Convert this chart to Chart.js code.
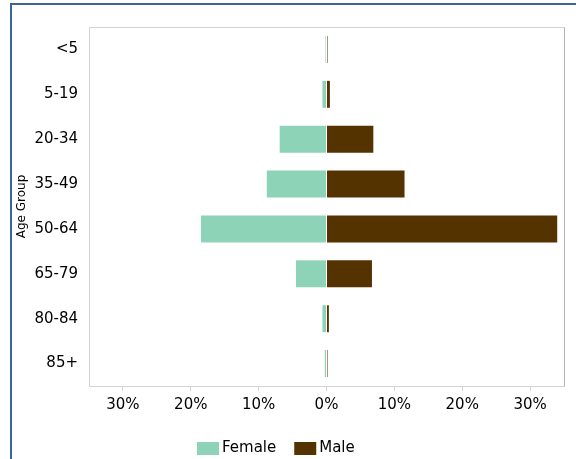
<!DOCTYPE html>
<html>
<head>
<meta charset="utf-8">
<script src="https://cdn.jsdelivr.net/npm/chart.js@4/dist/chart.umd.min.js"></script>
<style>
  html, body { margin: 0; padding: 0; background: #ffffff; }
  #wrap { position: relative; width: 576px; height: 459px; overflow: hidden; }
  #frame {
    position: absolute; left: 10px; top: 3px; width: 600px; height: 500px;
    border-left: 2px solid #3b6694; border-top: 2px solid #3b6694;
    box-sizing: border-box; pointer-events: none;
  }
  canvas { position: absolute; left: 0; top: 0; }
</style>
</head>
<body>
<div id="wrap">
  <canvas id="chart" width="576" height="459"></canvas>
  <div id="frame"></div>
</div>
<script>
// Age groups, top to bottom
const ageGroups = ['<5', '5-19', '20-34', '35-49', '50-64', '65-79', '80-84', '85+'];
// Share of cases (%) — female values are plotted to the left of zero
const femalePct = [0.15, 0.6, 6.9, 8.8, 18.5, 4.5, 0.6, 0.25];
const malePct   = [0.15, 0.5, 6.9, 11.5, 34.0, 6.7, 0.35, 0.15];
// Percentage ticks shown on the horizontal axis
const xTickValues = [-30, -20, -10, 0, 10, 20, 30];
const seriesNames = ['Female', 'Male'];

const FONT = 'DejaVu Sans';
const femaleColor = '#8dd3b8';
const maleColor = '#553300';

// Light frame around the plotting area
const plotFrame = {
  id: 'plotFrame',
  beforeDatasetsDraw(chart) {
    const { ctx, chartArea: a } = chart;
    ctx.save();
    ctx.lineWidth = 1;
    ctx.strokeStyle = '#d3d3d3';
    ctx.beginPath();
    ctx.moveTo(a.left + 0.5, a.bottom + 0.5);
    ctx.lineTo(a.left + 0.5, a.top + 0.5);
    ctx.lineTo(a.right + 0.5, a.top + 0.5);
    ctx.stroke();
    ctx.beginPath();
    ctx.moveTo(a.left + 0.5, a.bottom + 0.5);
    ctx.lineTo(a.right + 0.5, a.bottom + 0.5);
    ctx.stroke();
    ctx.strokeStyle = '#b4b4b4';
    ctx.beginPath();
    ctx.moveTo(a.right + 0.5, a.top + 0.5);
    ctx.lineTo(a.right + 0.5, a.bottom + 0.5);
    ctx.stroke();
    ctx.restore();
  }
};

// Legend drawn below the axis, swatch close to its label
const bottomLegend = {
  id: 'bottomLegend',
  afterDraw(chart) {
    const { ctx } = chart;
    const ds = chart.data.datasets;
    ctx.save();
    ctx.font = '15px "' + FONT + '"';
    ctx.textBaseline = 'middle';
    const boxW = 22, boxH = 13, gap = 3, itemGap = 18;
    const widths = ds.map(d => boxW + gap + ctx.measureText(d.label).width);
    let x = 197;
    const y = 448.5;
    ds.forEach((d, i) => {
      ctx.fillStyle = d.backgroundColor;
      ctx.fillRect(x, y - boxH / 2, boxW, boxH);
      ctx.fillStyle = '#000000';
      ctx.textAlign = 'left';
      ctx.fillText(d.label, x + boxW + gap, y);
      x += widths[i] + itemGap;
    });
    ctx.restore();
  }
};

new Chart(document.getElementById('chart'), {
  type: 'bar',
  data: {
    labels: ageGroups,
    datasets: [
      {
        label: seriesNames[0],
        data: femalePct.map(v => -v),
        backgroundColor: femaleColor,
        borderWidth: 0,
        categoryPercentage: 1.0,
        barPercentage: 0.6
      },
      {
        label: seriesNames[1],
        data: malePct,
        backgroundColor: maleColor,
        borderWidth: 0,
        categoryPercentage: 1.0,
        barPercentage: 0.6
      }
    ]
  },
  options: {
    indexAxis: 'y',
    responsive: false,
    animation: false,
    layout: { padding: { left: 12, top: 27, right: 12, bottom: 33 } },
    plugins: {
      legend: { display: false },
      tooltip: { enabled: false }
    },
    scales: {
      x: {
        stacked: true,
        min: -35,
        max: 35,
        afterBuildTicks: s => { s.ticks = xTickValues.map(v => ({ value: v })); },
        afterFit: s => { s.height = 40; },
        grid: {
          drawOnChartArea: false,
          drawTicks: true,
          tickLength: 5,
          color: '#d3d3d3'
        },
        border: { display: false },
        ticks: {
          padding: 5,
          maxRotation: 0,
          autoSkip: false,
          color: '#000000',
          font: { family: FONT, size: 15 },
          callback: v => Math.abs(v) + '%'
        }
      },
      y: {
        stacked: true,
        afterFit: s => { s.width = 77; },
        grid: { display: false },
        border: { display: false },
        ticks: {
          padding: 3,
          color: '#000000',
          font: { family: FONT, size: 15 }
        },
        title: {
          display: true,
          text: 'Age Group',
          color: '#000000',
          padding: { top: 3, bottom: 0 },
          font: { family: FONT, size: 12 }
        }
      }
    }
  },
  plugins: [plotFrame, bottomLegend]
});
</script>
</body>
</html>
